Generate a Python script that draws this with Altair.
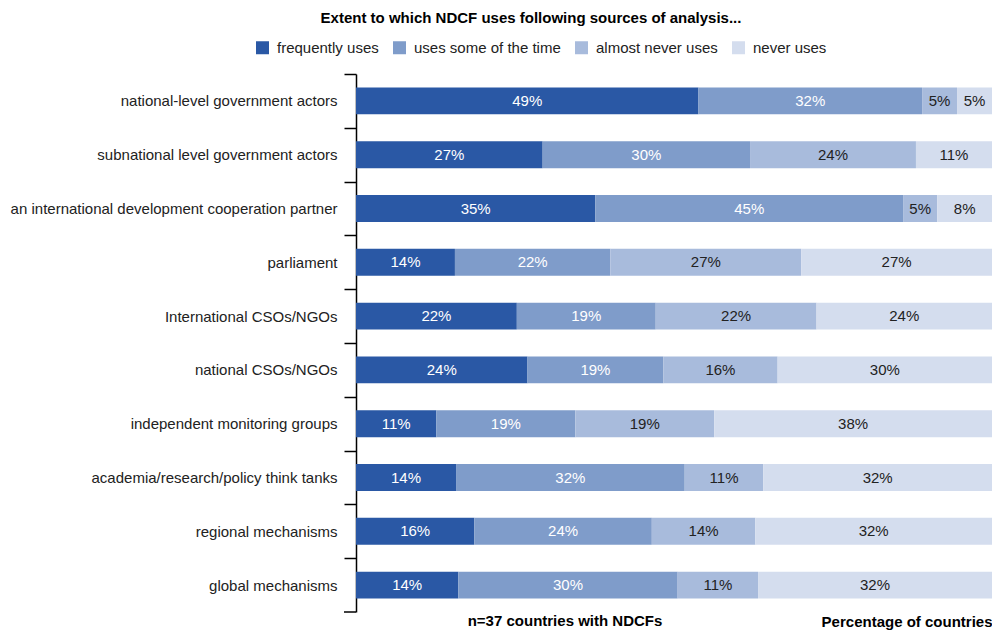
import altair as alt
import pandas as pd

sources = [
    "national-level government actors",
    "subnational level government actors",
    "an international development cooperation partner",
    "parliament",
    "International CSOs/NGOs",
    "national CSOs/NGOs",
    "independent monitoring groups",
    "academia/research/policy think tanks",
    "regional mechanisms",
    "global mechanisms",
]
categories = ["frequently uses", "uses some of the time", "almost never uses", "never uses"]
frequently = [49, 27, 35, 14, 22, 24, 11, 14, 16, 14]
some_time = [32, 30, 45, 22, 19, 19, 19, 32, 24, 30]
almost_never = [5, 24, 5, 27, 22, 16, 19, 11, 14, 11]
never = [5, 11, 8, 27, 24, 30, 38, 32, 32, 32]
colors = ["#2a58a5", "#7f9cca", "#a8bbdc", "#d4ddee"]

title_text = "Extent to which NDCF uses following sources of analysis..."
note_text = ["n=37 countries with NDCFs"]
x_title = "Percentage of countries"

FONT = "Liberation Sans"
W, H = 636, 538
STEP = H / 10.0
HALF_GAP = 0.25 * STEP

rows = []
for i, s in enumerate(sources):
    for j, vals in enumerate([frequently, some_time, almost_never, never]):
        rows.append({"source": s, "category": categories[j], "order": j, "value": vals[i]})
df = pd.DataFrame(rows)

base = (
    alt.Chart(df)
    .transform_joinaggregate(total="sum(value)", groupby=["source"])
    .transform_calculate(pct="datum.value / datum.total", label="datum.value + '%'")
    .transform_stack(
        stack="pct",
        groupby=["source"],
        as_=["x0", "x1"],
        sort=[alt.SortField(field="order", order="ascending")],
    )
    .transform_calculate(mid="(datum.x0 + datum.x1) / 2")
)

y_enc = alt.Y(
    "source:N",
    sort=sources,
    scale=alt.Scale(paddingInner=0.5, paddingOuter=0.25),
    axis=alt.Axis(
        title=None,
        bandPosition=0,
        tickOffset=-HALF_GAP,
        labelOffset=HALF_GAP,
        tickSize=12,
        labelPadding=7,
        labelFontSize=15,
        labelFont=FONT,
        labelColor="#222222",
        domainColor="#000000",
        tickColor="#000000",
        domainWidth=1.5,
        tickWidth=1.5,
        labelLimit=400,
    ),
)

x_enc = alt.X(
    "x0:Q",
    scale=alt.Scale(domain=[0, 1], nice=False),
    axis=alt.Axis(
        title=x_title,
        labels=False,
        ticks=False,
        domain=False,
        grid=False,
        titleAnchor="end",
        titleFontSize=15,
        titleFont=FONT,
        titleFontWeight="bold",
        titleColor="#000000",
        titleBaseline="alphabetic",
        titleY=14,
    ),
)

bars = base.mark_bar().encode(
    x=x_enc,
    x2="x1:Q",
    y=y_enc,
    color=alt.Color(
        "category:N",
        scale=alt.Scale(domain=categories, range=colors),
        legend=alt.Legend(
            title=None,
            orient="none",
            legendX=-101,
            legendY=-34,
            direction="horizontal",
            symbolType="square",
            symbolSize=169,
            symbolStrokeWidth=0,
            symbolOpacity=1,
            labelFontSize=15,
            labelFont=FONT,
            labelColor="#222222",
            labelOffset=7,
            columnPadding=13,
            padding=0,
        ),
    ),
)

texts = base.mark_text(fontSize=15, font=FONT).encode(
    x="mid:Q",
    y=alt.Y("source:N", sort=sources),
    text="label:N",
    color=alt.when("datum.order < 2").then(alt.value("white")).otherwise(alt.value("#222222")),
)

# closing tick at the bottom end of the category axis
bottom_tick = (
    alt.Chart(pd.DataFrame({"k": [0]}))
    .mark_rule(color="#000000", strokeWidth=1.5)
    .encode(x=alt.value(-12), x2=alt.value(0), y=alt.value(H))
)

note = (
    alt.Chart(pd.DataFrame({"t": note_text}))
    .mark_text(fontSize=15, font=FONT, fontWeight="bold", color="#000000", baseline="alphabetic")
    .encode(x=alt.value(209), y=alt.value(H + 14), text="t:N")
)

chart = (
    alt.layer(bars, texts, bottom_tick, note)
    .properties(
        width=W,
        height=H,
        title=alt.TitleParams(
            title_text,
            fontSize=15,
            font=FONT,
            fontWeight="bold",
            color="#000000",
            anchor="middle",
            dx=-143,
            offset=14,
        ),
        autosize=alt.AutoSizeParams(type="none"),
        padding={"left": 348, "top": 66, "right": 0, "bottom": 18},
    )
    .configure_view(stroke=None)
)

chart.save("out.html", embed_options={"renderer": "svg", "actions": False})
